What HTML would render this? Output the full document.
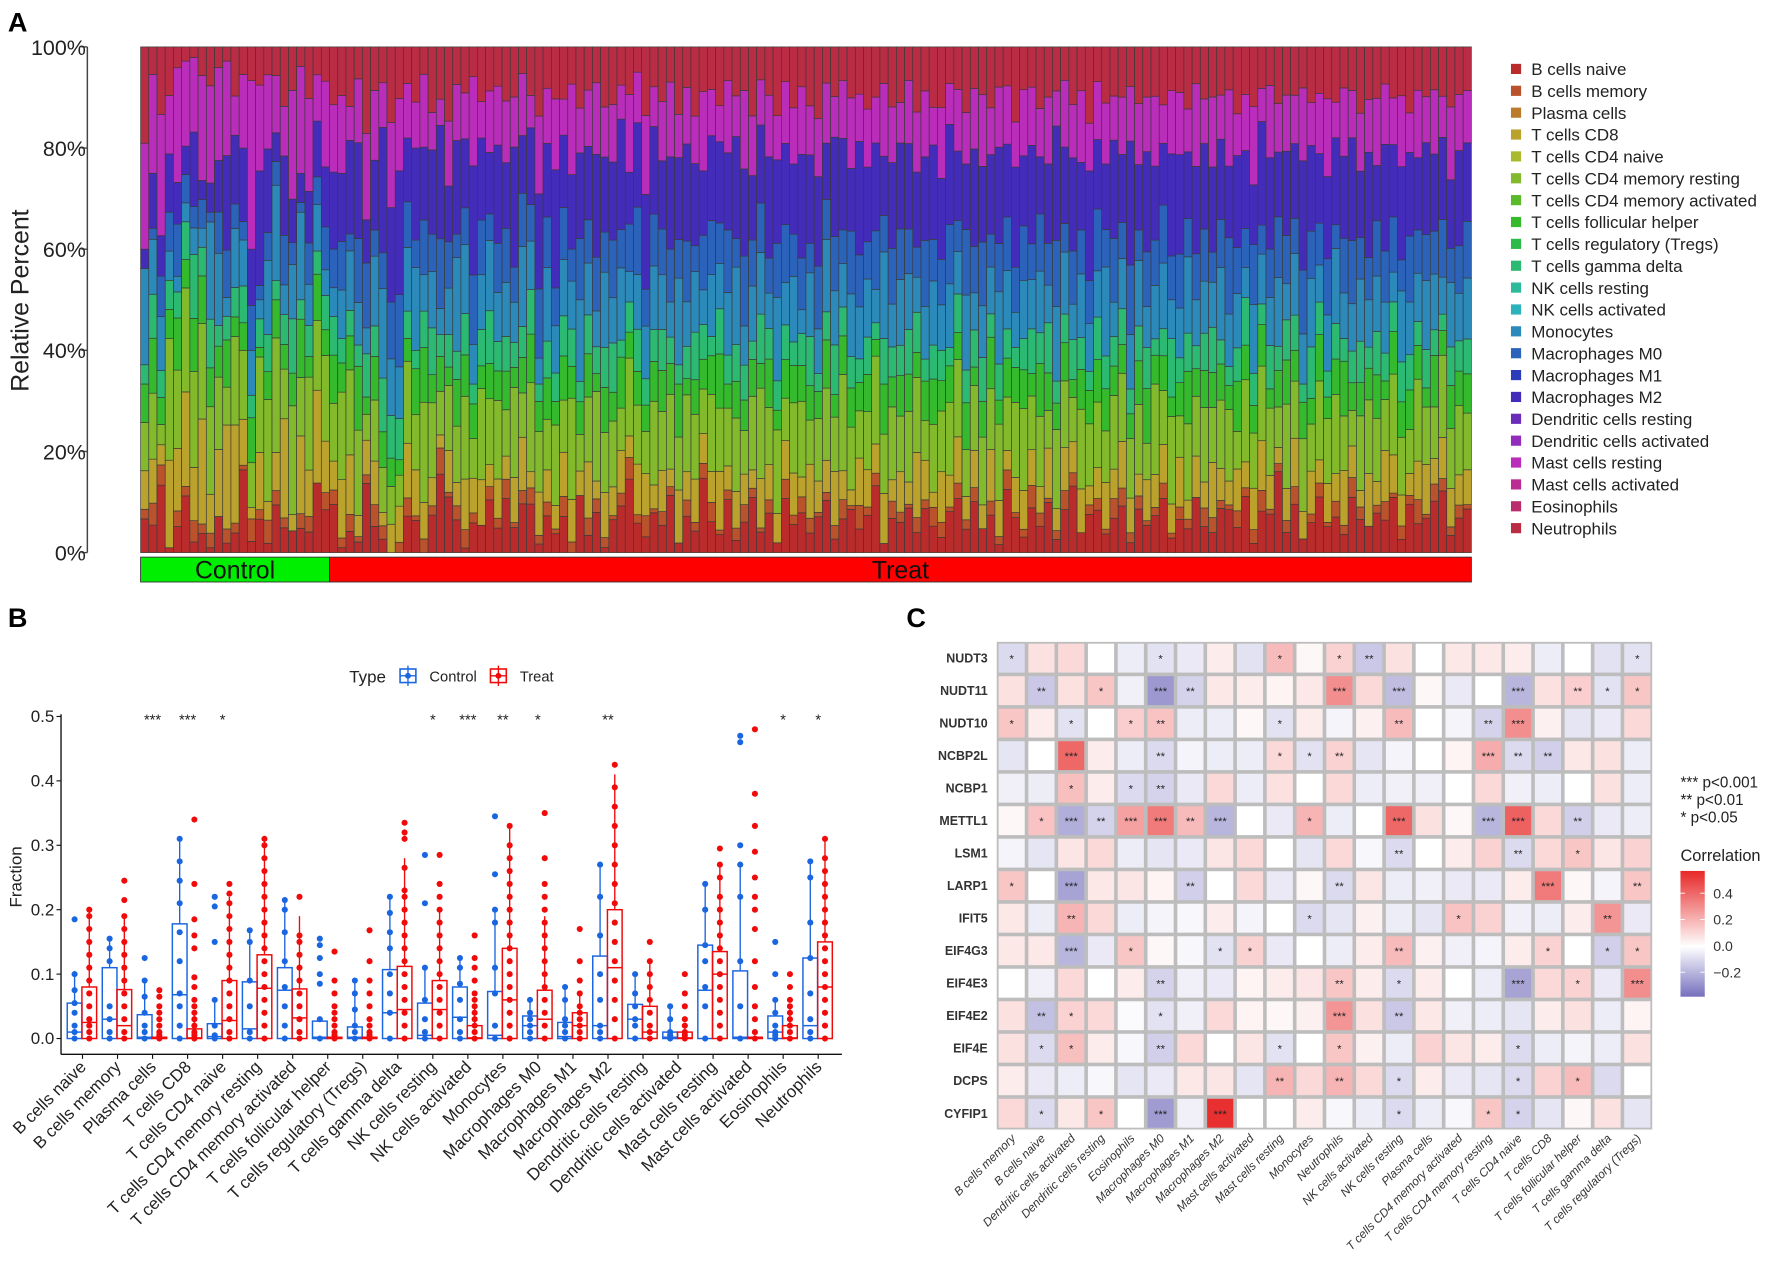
<!DOCTYPE html>
<html><head><meta charset="utf-8">
<style>
html,body{margin:0;padding:0;background:#fff;}
svg{display:block;font-family:"Liberation Sans",Arial,sans-serif;}
</style></head>
<body>
<svg id="fig" xmlns="http://www.w3.org/2000/svg" width="1772" height="1272" viewBox="0 0 1568 1125.6" preserveAspectRatio="none">
<rect width="1568" height="1125.6" fill="#fff"/>
<g id="panelA"></g>
<g id="panelB"></g>
<g id="panelC"></g>
</svg>
<script>
// ---------- Panel A data ----------
const cellTypes = ["B cells naive","B cells memory","Plasma cells","T cells CD8","T cells CD4 naive","T cells CD4 memory resting","T cells CD4 memory activated","T cells follicular helper","T cells regulatory (Tregs)","T cells gamma delta","NK cells resting","NK cells activated","Monocytes","Macrophages M0","Macrophages M1","Macrophages M2","Dendritic cells resting","Dendritic cells activated","Mast cells resting","Mast cells activated","Eosinophils","Neutrophils"];
const groupNames = ["Control","Treat"];
const groupSizes = [23,139];
const pctTicks = ["0%","20%","40%","60%","80%","100%"];
const bNaive = [7,5,10,1,5,12,2,4,1,7,2,4,18,2,7,2,10,5,4,5,4,15,10,
10,1,5,2,16,6,3,0,0,8,7,0,8,18,12,7,1,6,6,12,5,14,5,11,12,2,8,4,9,0,14,4,9,1,8,11,17,7,3,10,
6,13,2,9,5,15,8,4,11,3,7,12,5,9,2,14,6,10,4,8,13,3,7,11,5,9,16,2,8,6,12,4,10,7,3,9,14,5,11,6,
8,2,13,7,4,10,6,12,3,9,15,5,8,11,4,7,13,2,10,6,9,14,3,8,5,12,7,4,11,9,6,13,2,10,8,20,5,11,3,7,
12,6,9,4,14,8,5,10,7,13,3,11,6,9,12,15,4,8,10];
const bMemory = [2,4,3,0,3,2,4,2,3,0,3,2,1,4,2,5,3,2,0,3,3,0,4,
3,2,4,1,2,5,3,0,2,4,1,3,2,6,1,3,4,2,0,3,2,5,1,3,4,2,3,1,5,2,0,4,3,2,1,3,5,2,4,1,
3,2,0,4,2,3,5,1,2,3,4,2,1,3,0,5,2,4,3,1,2,3,4,1,5,2,3,0,4,2,1,3,2,5,3,1,4,2,3,0,
3,2,4,1,2,5,3,1,2,4,3,0,2,3,1,4,5,2,3,1,2,4,1,3,2,0,5,3,2,1,4,2,3,5,1,2,3,4,0,2,
3,1,4,2,5,3,0,2,4,1,3,2,5,1,4,3,2,3,1];
const tCD8 = [8,8,3,18,12,20,10,22,8,13,22,20,10,2,12,4,8,20,3,16,9,20,12,
6,12,14,4,8,10,3,6,7,12,10,8,6,3,9,5,11,7,10,5,8,6,9,12,4,10,7,5,11,8,6,13,4,9,7,10,5,12,8,6,
9,4,11,7,10,6,8,13,5,9,7,4,12,8,6,10,9,5,11,7,8,12,6,4,10,9,7,11,5,8,6,13,9,4,10,7,12,5,8,6,
11,9,4,7,10,8,6,12,5,9,7,11,4,8,10,6,13,7,5,9,8,10,6,12,4,9,7,11,8,5,10,6,9,12,7,4,8,11,6,10,
5,9,7,12,8,4,10,6,11,9,7,5,8,13,6,10,9,7,8];
const tCD4memRest = [10,12,3,25,15,22,18,20,18,14,8,18,15,8,20,22,24,10,20,12,18,15,20,
12,18,20,16,6,14,10,8,6,18,12,22,16,10,14,12,18,8,20,15,16,12,18,10,22,14,11,17,13,19,9,15,20,12,16,10,18,14,8,21,
13,17,11,19,15,9,20,14,12,18,10,16,22,13,17,11,15,19,9,14,18,12,20,16,10,14,21,13,17,11,19,15,9,18,12,16,20,10,14,17,
13,19,11,15,21,12,16,9,18,14,10,20,13,17,11,15,19,12,16,8,22,14,18,10,16,13,20,11,17,15,9,19,12,18,14,10,21,13,16,11,
17,15,20,12,9,18,14,16,11,19,13,10,17,15,12,20,14,16,13];
const tFollicular = [8,10,4,6,10,6,10,10,8,6,10,4,6,8,2,6,8,5,6,12,4,10,6,
10,6,8,12,4,10,8,6,3,5,10,12,6,8,4,10,9,7,5,8,6,10,4,8,12,7,9,5,11,6,8,10,4,9,7,12,6,8,5,10,
9,7,11,4,8,6,10,12,5,9,7,8,6,11,4,10,8,9,7,6,12,5,8,10,6,9,4,11,7,8,10,5,9,12,6,8,7,10,4,9,
11,6,8,7,10,5,12,9,6,8,4,10,7,11,9,6,8,5,10,12,7,9,4,8,11,6,10,7,9,5,12,8,6,10,4,9,11,7,8,6,
10,5,9,12,7,8,6,11,4,10,8,9,7,5,12,6,10,8,9];
const tGammaDelta = [4,8,4,6,5,8,12,6,10,4,5,6,8,4,6,8,4,6,10,4,6,5,8,
8,5,6,4,10,7,12,9,8,6,4,8,10,5,7,6,9,4,8,12,6,9,5,7,11,4,8,6,10,7,5,9,6,8,12,4,7,10,5,8,
9,6,4,8,11,7,5,10,6,9,8,4,12,7,6,9,5,8,10,4,7,11,6,8,5,9,4,10,7,6,12,8,5,9,6,4,10,7,8,11,
5,9,6,4,8,10,7,12,5,6,9,8,4,11,7,6,10,5,8,9,4,7,12,6,8,5,10,9,6,4,8,11,7,5,9,6,10,8,4,12,
7,6,9,5,8,10,4,11,6,7,9,8,5,10,6,4,9,7,8];
const monocytes = [20,10,8,6,3,4,5,4,20,14,4,12,10,8,4,16,20,6,10,18,8,10,6,
6,10,14,8,6,16,20,12,10,14,18,8,12,6,10,20,15,8,12,16,10,14,8,18,12,6,16,10,14,9,20,12,8,15,11,17,7,13,10,16,
12,8,18,11,14,7,16,10,13,19,9,12,15,8,17,11,14,6,13,10,18,12,9,16,11,14,8,19,10,13,15,7,12,17,9,14,11,16,8,13,
10,18,12,7,15,11,14,9,17,13,8,16,10,12,19,7,14,11,15,9,13,17,8,12,16,10,14,9,18,11,13,7,15,12,10,17,9,14,11,16,
8,13,19,10,12,15,9,14,11,7,16,12,10,18,13,9,15,11,14];
const macM0 = [0,2,6,8,10,6,4,6,2,8,10,5,4,8,3,6,5,10,4,2,8,6,10,
8,10,4,12,15,6,8,12,14,10,6,12,8,16,10,5,8,14,12,6,10,14,7,12,9,16,11,8,13,6,15,10,12,8,14,9,11,16,7,13,
10,12,8,15,6,11,14,9,13,7,16,10,12,8,11,15,9,13,6,14,10,12,7,16,11,9,14,8,13,10,12,6,15,11,9,13,8,14,10,16,
7,12,11,9,14,8,13,10,15,6,12,11,9,16,8,13,10,14,7,12,11,15,9,13,8,10,14,6,12,16,11,9,13,7,10,15,12,8,14,11,
9,13,6,12,16,10,8,14,11,13,7,15,9,12,10,14,8,11,13];
const macM2 = [4,10,6,12,8,6,14,4,6,10,20,14,16,10,24,18,6,16,8,6,10,12,14,
16,14,22,18,10,16,28,20,24,14,20,16,18,26,12,20,15,22,18,14,20,17,24,13,19,22,16,25,18,14,21,17,23,15,19,26,12,20,18,22,
15,21,17,24,19,13,22,18,16,25,20,14,19,23,17,21,15,26,18,20,14,22,19,16,24,18,21,13,20,17,23,15,19,25,16,22,18,14,21,19,
17,24,15,20,18,22,13,19,26,16,21,17,23,18,14,20,19,25,15,22,18,16,21,24,14,19,23,17,20,15,22,18,13,25,19,16,21,17,24,20,
15,19,22,18,26,16,20,14,23,17,21,19,15,24,18,20,16,22,18];
const mastResting = [22,18,18,12,22,18,14,22,20,18,20,8,16,30,18,16,12,10,20,22,18,10,20,
14,16,8,12,20,16,10,18,14,12,10,16,8,6,14,12,10,18,8,14,12,16,10,14,8,18,12,15,9,17,11,13,16,10,14,8,18,12,15,10,
13,17,9,14,11,16,12,8,15,10,18,13,11,14,9,16,12,17,10,13,15,9,12,18,10,14,11,16,13,8,17,12,15,10,14,9,16,11,13,18,
10,15,12,9,17,13,11,16,8,14,12,18,10,15,13,9,16,11,14,12,17,10,13,15,9,18,12,14,11,16,10,13,17,8,15,12,14,11,16,10,
13,18,9,15,12,14,10,17,13,11,16,9,14,12,15,10,17,13,12];
const neutrophils = [20,5,10,10,4,3,2,6,8,4,3,10,6,6,8,6,6,12,8,4,10,6,8,
12,10,14,6,20,10,8,16,10,8,12,6,14,12,16,8,10,6,12,10,8,14,10,6,12,16,9,11,13,7,15,10,8,12,14,9,11,6,13,10,
12,8,14,10,16,9,11,13,7,12,10,15,8,11,14,9,13,10,12,16,9,11,7,13,10,15,12,8,14,11,9,13,10,16,12,8,11,14,9,12,
13,10,8,15,11,9,14,12,10,7,13,11,16,9,12,10,14,8,13,11,12,15,9,11,13,8,14,10,12,9,16,11,13,10,8,14,12,11,9,13,
10,12,14,9,11,16,10,13,8,12,11,15,9,13,10,12,14,11,10];
// which cell type each series belongs to (index into cellTypes)
const seriesTypeIdx = [0,1,3,5,7,9,12,13,15,18,21];
const seriesValues = [bNaive,bMemory,tCD8,tCD4memRest,tFollicular,tGammaDelta,monocytes,macM0,macM2,mastResting,neutrophils];

// ---------- Panel B data ----------
const boxCategories = cellTypes;
const sigLabels = ["","","***","***","*","","","","","","*","***","**","*","","**","","","","","*","*"];
const fracTicks = [0,0.1,0.2,0.3,0.4,0.5];
// [min, q1, median, q3, max-whisker]
const ctrlBox = [[0,0,0.01,0.055,0.105],[0,0,0.03,0.11,0.155],[0,0,0.002,0.037,0.09],[0,0,0.068,0.178,0.31],[0,0,0.003,0.023,0.06],[0,0,0.015,0.088,0.168],[0,0,0.075,0.11,0.215],[0,0,0.002,0.027,0.03],[0,0,0.002,0.018,0.09],[0,0,0.04,0.107,0.22],[0,0,0.005,0.055,0.11],[0,0,0.033,0.08,0.125],[0,0,0.005,0.073,0.2],[0,0,0.02,0.035,0.06],[0,0,0.003,0.025,0.08],[0,0,0.02,0.128,0.27],[0,0,0.03,0.053,0.1],[0,0,0.002,0.01,0.05],[0,0,0.075,0.145,0.24],[0,0,0.002,0.105,0.27],[0,0,0.01,0.035,0.06],[0,0,0.02,0.125,0.275]];
const treatBox = [[0,0,0.025,0.08,0.2],[0,0,0.02,0.076,0.19],[0,0,0.001,0.002,0.005],[0,0,0.001,0.015,0.04],[0,0,0.028,0.09,0.22],[0,0,0.078,0.13,0.31],[0,0,0.032,0.077,0.19],[0,0,0.001,0.002,0.005],[0,0,0.001,0.002,0.005],[0,0,0.045,0.112,0.28],[0,0,0.045,0.09,0.2],[0,0,0.001,0.02,0.05],[0,0,0.06,0.14,0.33],[0,0,0.03,0.075,0.19],[0,0,0.02,0.04,0.07],[0,0,0.11,0.2,0.41],[0,0,0.01,0.05,0.12],[0,0,0.001,0.01,0.02],[0,0,0.1,0.135,0.27],[0,0,0.001,0.002,0.005],[0,0,0.001,0.02,0.05],[0,0,0.08,0.15,0.31]];
const ctrlPts = [[0,0.01,0.02,0.04,0.055,0.075,0.1,0.185],[0,0.01,0.03,0.05,0.12,0.14,0.155],[0,0.01,0.02,0.04,0.065,0.09,0.125],[0,0.02,0.05,0.07,0.12,0.165,0.21,0.245,0.275,0.31],[0,0.005,0.02,0.06,0.15,0.205,0.22],[0,0.01,0.05,0.09,0.15,0.168],[0,0.02,0.05,0.08,0.12,0.165,0.2,0.215],[0,0.03,0.085,0.1,0.125,0.145,0.155],[0,0.01,0.02,0.045,0.07,0.09],[0,0.04,0.07,0.1,0.14,0.165,0.195,0.22],[0,0.01,0.03,0.06,0.11,0.21,0.285],[0,0.01,0.03,0.06,0.085,0.11,0.125],[0,0.02,0.07,0.11,0.18,0.2,0.255,0.345],[0,0.01,0.02,0.03,0.04,0.06],[0,0.01,0.02,0.03,0.06,0.08],[0,0.01,0.02,0.06,0.1,0.16,0.22,0.27],[0,0.02,0.03,0.05,0.07,0.1],[0,0.005,0.01,0.03,0.05],[0,0.05,0.08,0.12,0.145,0.2,0.24],[0,0.05,0.12,0.22,0.27,0.3,0.46,0.47],[0,0.005,0.01,0.02,0.04,0.06,0.1,0.15],[0,0.01,0.03,0.07,0.125,0.18,0.25,0.275]];
const treatPts = [[0,0.01,0.02,0.03,0.05,0.07,0.09,0.11,0.13,0.15,0.17,0.19,0.2],[0,0.01,0.03,0.05,0.07,0.09,0.11,0.13,0.15,0.17,0.19,0.215,0.245],[0,0.005,0.01,0.02,0.03,0.04,0.05,0.065,0.075],[0,0.005,0.01,0.02,0.03,0.04,0.05,0.06,0.08,0.095,0.14,0.16,0.185,0.24,0.34],[0,0.01,0.03,0.05,0.07,0.09,0.11,0.13,0.15,0.17,0.19,0.21,0.225,0.24],[0,0.02,0.04,0.06,0.08,0.1,0.12,0.14,0.16,0.18,0.2,0.22,0.24,0.26,0.28,0.3,0.31],[0,0.01,0.03,0.05,0.07,0.09,0.11,0.13,0.15,0.16,0.22],[0,0.005,0.01,0.02,0.03,0.04,0.05,0.07,0.09,0.135],[0,0.005,0.01,0.02,0.03,0.05,0.07,0.09,0.12,0.168],[0,0.02,0.04,0.06,0.08,0.1,0.12,0.14,0.16,0.18,0.2,0.22,0.23,0.265,0.31,0.32,0.335],[0,0.02,0.04,0.06,0.08,0.1,0.12,0.14,0.16,0.18,0.2,0.22,0.24,0.285],[0,0.01,0.02,0.03,0.04,0.05,0.06,0.07,0.09,0.11,0.125,0.16],[0,0.02,0.04,0.06,0.08,0.1,0.12,0.14,0.16,0.18,0.2,0.22,0.24,0.26,0.28,0.3,0.33],[0,0.02,0.04,0.06,0.08,0.1,0.12,0.14,0.16,0.18,0.2,0.22,0.24,0.28,0.35],[0,0.01,0.02,0.03,0.04,0.05,0.07,0.09,0.12,0.17],[0,0.03,0.06,0.09,0.12,0.15,0.18,0.21,0.24,0.27,0.3,0.33,0.36,0.39,0.425],[0,0.01,0.02,0.04,0.06,0.08,0.1,0.12,0.15],[0,0.005,0.01,0.02,0.03,0.05,0.07,0.1],[0,0.02,0.04,0.06,0.08,0.1,0.12,0.14,0.16,0.18,0.2,0.22,0.25,0.27,0.295],[0,0.01,0.03,0.05,0.08,0.12,0.17,0.2,0.22,0.25,0.29,0.33,0.38,0.48],[0,0.01,0.02,0.03,0.04,0.05,0.06,0.08,0.1],[0,0.02,0.04,0.06,0.08,0.1,0.12,0.14,0.16,0.18,0.2,0.22,0.24,0.26,0.28,0.31]];

// ---------- Panel C data ----------
const genes = ["NUDT3","NUDT11","NUDT10","NCBP2L","NCBP1","METTL1","LSM1","LARP1","IFIT5","EIF4G3","EIF4E3","EIF4E2","EIF4E","DCPS","CYFIP1"];
const heatCols = ["B cells memory","B cells naive","Dendritic cells activated","Dendritic cells resting","Eosinophils","Macrophages M0","Macrophages M1","Macrophages M2","Mast cells activated","Mast cells resting","Monocytes","Neutrophils","NK cells activated","NK cells resting","Plasma cells","T cells CD4 memory activated","T cells CD4 memory resting","T cells CD4 naive","T cells CD8","T cells follicular helper","T cells gamma delta","T cells regulatory (Tregs)"];
const corr = [
[-0.1,0.08,0.1,0.0,-0.05,-0.08,-0.06,0.05,-0.08,0.18,0.02,0.12,-0.15,0.08,0.0,0.06,0.06,0.05,-0.05,0.0,-0.08,-0.08],
[0.08,-0.15,0.08,0.15,-0.04,-0.28,-0.12,0.06,0.05,0.03,0.06,0.3,0.1,-0.18,0.02,-0.06,0.0,-0.2,0.08,0.13,-0.08,0.15],
[0.15,0.05,-0.08,0.0,0.13,0.16,-0.05,-0.05,0.02,-0.08,0.05,-0.03,0.04,0.18,0.0,-0.03,-0.12,0.3,0.04,-0.07,-0.06,0.1],
[-0.07,0.0,0.4,0.05,-0.05,-0.1,-0.03,-0.05,-0.05,0.1,-0.08,0.12,-0.07,-0.03,0.0,0.03,0.22,-0.1,-0.13,0.06,0.08,-0.05],
[-0.04,-0.05,0.17,0.05,-0.1,-0.12,-0.06,0.1,-0.05,0.08,0.0,0.1,-0.05,-0.04,-0.04,0.0,0.1,-0.04,-0.05,0.0,0.08,-0.05],
[0.02,0.16,-0.22,-0.12,0.25,0.35,0.18,-0.2,0.0,-0.06,0.2,-0.05,0.0,0.4,0.08,0.02,-0.2,0.42,0.1,-0.13,-0.06,-0.05],
[-0.03,-0.07,0.07,0.1,-0.05,-0.07,-0.06,0.07,0.1,0.0,-0.07,0.1,-0.02,-0.1,0.0,0.05,0.12,-0.1,0.1,0.15,0.07,0.12],
[0.15,0.0,-0.25,0.06,0.07,0.03,-0.13,0.0,0.1,-0.06,0.02,-0.1,0.07,-0.05,-0.04,-0.06,-0.06,0.05,0.35,0.02,-0.03,0.15],
[0.06,-0.05,0.2,0.1,-0.05,-0.03,-0.02,0.05,-0.03,0.0,-0.1,-0.07,0.04,-0.05,-0.07,0.16,0.12,-0.04,-0.05,0.05,0.28,-0.06],
[0.06,0.06,-0.2,-0.06,0.15,0.02,-0.02,-0.08,0.12,-0.06,0.0,-0.05,0.05,0.18,0.04,-0.04,-0.03,0.05,0.12,0.0,-0.13,0.15],
[0.0,-0.04,0.1,0.0,0.05,-0.12,-0.04,-0.06,0.03,0.05,0.07,0.15,0.05,-0.1,0.05,0.0,-0.05,-0.25,0.1,0.12,-0.06,0.3],
[0.08,-0.17,0.12,0.1,-0.01,-0.08,-0.04,0.1,0.03,0.02,0.04,0.28,0.08,-0.15,0.06,-0.04,-0.05,-0.07,0.05,0.08,-0.05,0.03],
[0.08,-0.1,0.17,0.05,-0.02,-0.13,0.1,0.0,0.07,-0.08,0.0,0.15,0.04,-0.05,0.12,0.07,0.05,-0.1,-0.05,-0.03,-0.05,0.08],
[0.05,-0.06,-0.05,-0.02,-0.07,-0.06,0.06,0.07,-0.07,0.2,0.1,0.2,0.1,-0.1,0.05,-0.06,-0.07,-0.1,0.12,0.18,-0.1,0.0],
[0.1,-0.1,0.06,0.15,0.0,-0.27,-0.04,0.55,0.0,0.0,0.05,-0.02,-0.05,-0.1,-0.05,-0.02,0.15,-0.12,-0.07,0.02,0.08,-0.07]];
const sig = [
["*","","","","","*","","","","*","","*","**","","","","","","","","","*"],
["","**","","*","","***","**","","","","","***","","***","","","","***","","**","*","*"],
["*","","*","","*","**","","","","*","","","","**","","","**","***","","","",""],
["","","***","","","**","","","","*","*","**","","","","","***","**","**","","",""],
["","","*","","*","**","","","","","","","","","","","","","","","",""],
["","*","***","**","***","***","**","***","","","*","","","***","","","***","***","","**","",""],
["","","","","","","","","","","","","","**","","","","**","","*","",""],
["*","","***","","","","**","","","","","**","","","","","","","***","","","**"],
["","","**","","","","","","","","*","","","","","*","","","","","**",""],
["","","***","","*","","","*","*","","","","","**","","","","","*","","*","*"],
["","","","","","**","","","","","","**","","*","","","","***","","*","","***"],
["","**","*","","","*","","","","","","***","","**","","","","","","","",""],
["","*","*","","","**","","","","*","","*","","","","","","*","","","",""],
["","","","","","","","","","**","","**","","*","","","","*","","*","",""],
["","*","","*","","***","","***","","","","","","*","","","*","*","","","",""]];
const corrTicks = [0.4,0.2,0.0,-0.2];
const sigLegend = ["***  p<0.001","**  p<0.01"," *  p<0.05"];

const NS="http://www.w3.org/2000/svg";
function mk(tag, attrs, parent, txt){const e=document.createElementNS(NS,tag);for(const k in attrs)e.setAttribute(k,attrs[k]);if(txt!==undefined)e.textContent=txt;parent.appendChild(e);return e;}
function typeColor(i){return "hsl("+(i*350/21)+",62%,45%)";}

// ================= Panel A =================
(function(){
const g=document.getElementById('panelA');
const lab=mk('text',{x:7,y:28,'font-size':24,'font-weight':'bold'},g,'A');


const x0=124.4,x1=1302,yTop=41.5,yBot=489;
const N=groupSizes.reduce((a,b)=>a+b,0);
const pitch=(x1-x0)/N;
const yScale=p=>yBot-(yBot-yTop)*p;
// axis
const ax=mk('line',{x1:77.3,y1:yTop,x2:77.3,y2:yBot,stroke:'#444','stroke-width':1.3},g);


pctTicks.forEach((t,i)=>{
  const y=yScale(i/(pctTicks.length-1));
  mk('line',{x1:72,y1:y,x2:77.3,y2:y,stroke:'#444','stroke-width':1.2},g);
  const tt=mk('text',{x:76,y:y+7,'font-size':19,'text-anchor':'end',fill:'#222'},g,t);
  
  
});
const yt=mk('text',{x:0,y:0,'font-size':22,'text-anchor':'middle',fill:'#222',transform:'translate(25,266) rotate(-90)'},g,'Relative Percent');


// bars
for(let s=0;s<N;s++){
  let tot=0;seriesValues.forEach(a=>{tot+=(a[s]||0);});
  if(tot<=0) tot=1;
  let cum=0;
  const bx=x0+s*pitch;
  seriesValues.forEach((a,k)=>{
    const v=(a[s]||0)/tot;
    if(v<=0) return;
    const yA=yScale(cum), yB=yScale(cum+v);
    const r=mk('rect',{x:bx,y:yB,width:pitch,height:yA-yB,fill:typeColor(seriesTypeIdx[k]),stroke:'#3a3a3a','stroke-width':0.6},g);
    
    
    cum+=v;
  });
}
// group bar
let gx=x0;
groupSizes.forEach((n,i)=>{
  const w=n*pitch;
  const r=mk('rect',{x:gx,y:493,width:w,height:22,fill:i===0?'#00ee00':'#ff0000',stroke:'#333','stroke-width':0.8},g);
  
  
  const t=mk('text',{x:gx+w/2,y:512,'font-size':22,'text-anchor':'middle',fill:'#111'},g,groupNames[i]);
  
  
  gx+=w;
});
// legend
cellTypes.forEach((c,i)=>{
  const y=61+i*19.35;
  const sq=mk('rect',{x:1337,y:y-4.5,width:9,height:9,fill:typeColor(i)},g);
  
  
  const t=mk('text',{x:1355,y:y+5.5,'font-size':15,fill:'#222'},g,c);
  
  
});
})();

// ================= Panel B =================
(function(){
const g=document.getElementById('panelB');
const lab=mk('text',{x:7,y:555,'font-size':24,'font-weight':'bold'},g,'B');


const axX=54, y0=919, y5=634, xAxisY=933;
const yS=v=>y0-(y0-y5)*v/0.5;
const cx=i=>73+31*i;
const blue='#1a66e0', red='#f00a0a';
// legend
const lt=mk('text',{x:309,y:604,'font-size':15,fill:'#222'},g,'Type');


[[361,blue,'Control',380],[441,red,'Treat',460]].forEach(([x,c,l,tx])=>{
  mk('rect',{x:x-7,y:592,width:14,height:12,fill:'none',stroke:c,'stroke-width':1.4},g);
  mk('line',{x1:x,y1:589,x2:x,y2:607,stroke:c,'stroke-width':1.2},g);
  mk('line',{x1:x-7,y1:598,x2:x+7,y2:598,stroke:c,'stroke-width':1.2},g);
  mk('circle',{cx:x,cy:598,r:2.6,fill:c},g);
  const t=mk('text',{x:tx,y:603,'font-size':13,fill:'#222'},g,l);
  
  
});
// axes
const ya=mk('line',{x1:axX,y1:y5-2,x2:axX,y2:xAxisY,stroke:'#111','stroke-width':1.2},g);


const xa=mk('line',{x1:axX,y1:xAxisY,x2:745,y2:xAxisY,stroke:'#111','stroke-width':1.2},g);


fracTicks.forEach(v=>{
  const y=yS(v);
  mk('line',{x1:axX-4,y1:y,x2:axX,y2:y,stroke:'#111','stroke-width':1},g);
  const t=mk('text',{x:axX-6,y:y+5,'font-size':15,'text-anchor':'end',fill:'#222'},g,v.toFixed(1));
  
  
});
const yt=mk('text',{x:0,y:0,'font-size':15,'text-anchor':'middle',fill:'#222',transform:'translate(19,776) rotate(-90)'},g,'Fraction');


function drawBox(b,pts,x,col){
  const w=13;
  mk('line',{x1:x,y1:yS(b[3]),x2:x,y2:yS(b[4]),stroke:col,'stroke-width':1.2},g);
  mk('line',{x1:x,y1:yS(b[0]),x2:x,y2:yS(b[1]),stroke:col,'stroke-width':1.2},g);
  pts.forEach(v=>{
    const c=mk('circle',{cx:x,cy:yS(v),r:2.7,fill:col},g);
    
    
  });
  const r=mk('rect',{x:x-w/2,y:yS(b[3]),width:w,height:Math.max(0.5,yS(b[1])-yS(b[3])),fill:'none',stroke:col,'stroke-width':1.3},g);
  
  
  mk('line',{x1:x-w/2,y1:yS(b[2]),x2:x+w/2,y2:yS(b[2]),stroke:col,'stroke-width':1.3},g);
}
boxCategories.forEach((c,i)=>{
  const x=cx(i);
  drawBox(ctrlBox[i],ctrlPts[i],x-7,blue);
  drawBox(treatBox[i],treatPts[i],x+6,red);
  mk('line',{x1:x,y1:xAxisY,x2:x,y2:xAxisY+4,stroke:'#111','stroke-width':1},g);
  const t=mk('text',{x:0,y:0,'font-size':15,'text-anchor':'end',fill:'#222',transform:'translate('+(x+4)+','+(xAxisY+12)+') rotate(-45)'},g,c);
  
  
  if(sigLabels[i]){
    const s=mk('text',{x:x,y:641,'font-size':13,'text-anchor':'middle',fill:'#222'},g,sigLabels[i]);
    
    
  }
});
})();

// ================= Panel C =================
(function(){
const g=document.getElementById('panelC');
const lab=mk('text',{x:802,y:555,'font-size':24,'font-weight':'bold'},g,'C');


const hx0=882,hx1=1462,hy0=568,hy1=999.5;
const cw=(hx1-hx0)/heatCols.length, ch=(hy1-hy0)/genes.length;
function mix(a,b,t){return 'rgb('+a.map((v,i)=>Math.round(v+(b[i]-v)*t)).join(',')+')';}
function corrColor(v){
  if(v>=0) return mix([255,255,255],[232,40,40],Math.min(1,v/0.57));
  return mix([255,255,255],[118,112,190],Math.min(1,-v/0.39));
}
const bg=mk('rect',{x:hx0,y:hy0,width:hx1-hx0,height:hy1-hy0,fill:'#bdbdbd'},g);


genes.forEach((gn,r)=>{
  const t=mk('text',{x:hx0-8,y:hy0+ch*r+ch/2+4,'font-size':11,'font-weight':'bold','text-anchor':'end',fill:'#333'},g,gn);
  
  
  heatCols.forEach((cn,c)=>{
    const cell=mk('rect',{x:hx0+c*cw+1.6,y:hy0+r*ch+1.6,width:cw-3.2,height:ch-3.2,fill:corrColor(corr[r][c])},g);
    
    
    if(sig[r][c]){
      const s=mk('text',{x:hx0+c*cw+cw/2,y:hy0+r*ch+ch/2+4,'font-size':10,'text-anchor':'middle',fill:'#222'},g,sig[r][c]);
      
      
    }
  });
});
heatCols.forEach((cn,c)=>{
  const x=hx0+c*cw+cw/2+4;
  const t=mk('text',{x:0,y:0,'font-size':10.5,'font-style':'italic','text-anchor':'end',fill:'#333',transform:'translate('+x+',1008) rotate(-45)'},g,cn);
  
  
});
// significance legend
sigLegend.forEach((s,i)=>{
  const t=mk('text',{x:1487,y:697+i*15.5,'font-size':13.5,fill:'#222','xml:space':'preserve'},g,s);
  
  
});
const ct=mk('text',{x:1487,y:762,'font-size':14.5,fill:'#222'},g,'Correlation');


const defs=mk('defs',{},g);
const lg=mk('linearGradient',{id:'cg',x1:0,y1:0,x2:0,y2:1},defs);
mk('stop',{offset:'0','stop-color':'rgb(232,40,40)'},lg);
mk('stop',{offset:'0.6','stop-color':'#ffffff'},lg);
mk('stop',{offset:'1','stop-color':'rgb(118,112,190)'},lg);
const cbTop=770.7,cbBot=882;
const cb=mk('rect',{x:1487,y:cbTop,width:21.5,height:cbBot-cbTop,fill:'url(#cg)'},g);


const vS=v=>837-v/0.2*23.3;
corrTicks.forEach(v=>{
  const y=vS(v);
  mk('line',{x1:1487,y1:y,x2:1491,y2:y,stroke:'#fff','stroke-width':0.8},g);
  mk('line',{x1:1504.5,y1:y,x2:1508.5,y2:y,stroke:'#fff','stroke-width':0.8},g);
  const t=mk('text',{x:1516,y:y+4.5,'font-size':12.5,fill:'#333'},g,(v<0?'\u2212':'')+Math.abs(v).toFixed(1));
  
  
});
})();
</script>
</body></html>
